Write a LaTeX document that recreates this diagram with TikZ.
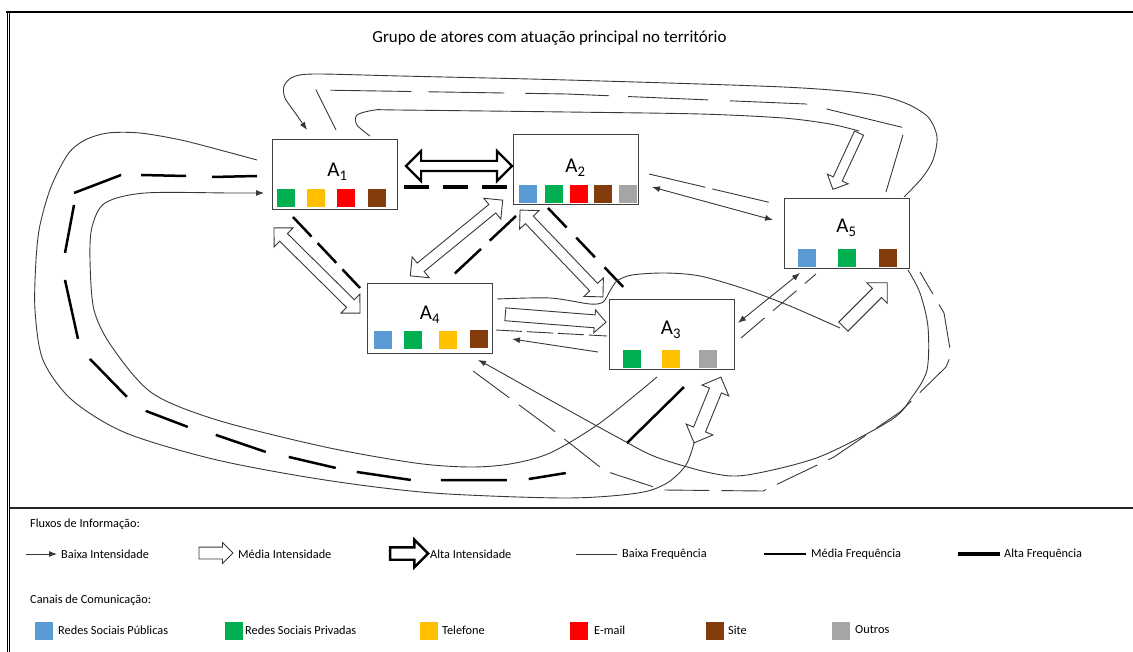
\documentclass[tikz,border=0pt]{standalone}
\usepackage{fontspec}
\setmainfont{Carlito}
\usetikzlibrary{arrows.meta,shapes.arrows}

\definecolor{azul}{HTML}{5B9BD5}
\definecolor{verde}{HTML}{00B050}
\definecolor{amarelo}{HTML}{FFC000}
\definecolor{vermelho}{HTML}{FF0000}
\definecolor{marrom}{HTML}{843C0C}
\definecolor{cinza}{HTML}{A5A5A5}
\definecolor{traco}{HTML}{383838}

\tikzset{
  ator/.style={draw=black!75, line width=1pt, minimum width=125pt, minimum height=70pt, inner sep=0pt},
  rotulo/.style={font=\fontsize{21}{23}\selectfont, inner sep=0pt, anchor=base},
  canal/.style={minimum size=18pt, inner sep=0pt},
  legenda/.style={font=\fontsize{12.3}{14}\selectfont, inner sep=0pt, anchor=west},
  fino/.style={line width=0.9pt, draw=traco},
  baixaint/.style={fino, -{Latex[length=8pt,width=6pt]}},
  baixaint2/.style={fino, {Latex[length=8pt,width=6pt]}-{Latex[length=8pt,width=6pt]}},
  baixafreq/.style={fino, dash pattern=on 30pt off 9pt},
  mediafreq/.style={line width=2.5pt, dash pattern=on 50pt off 22pt},
  altafreq/.style={line width=4.5pt, dash pattern=on 25pt off 14pt},
  mediaint/.style={single arrow, draw=traco, line width=0.9pt, fill=white, inner sep=0pt, inner ysep=6pt, single arrow head extend=7pt, minimum height=#1},
  mediaint2/.style={double arrow, draw=traco, line width=0.9pt, fill=white, inner sep=0pt, inner ysep=5pt, double arrow head extend=8pt, minimum height=#1},
  altaint/.style={single arrow, draw=black, line width=2.4pt, fill=white, inner sep=0pt, inner ysep=5pt, single arrow head extend=7.5pt, minimum height=#1},
  altaint2/.style={double arrow, draw=black, line width=2.2pt, fill=white, inner sep=0pt, inner ysep=4pt, double arrow head extend=10pt, minimum height=#1},
}

\begin{document}
\begin{tikzpicture}[x=1pt, y=-1pt]
  \useasboundingbox (0,0) rectangle (1133,652);

  % Moldura
  \draw[line width=2.4pt] (6,12) -- (1133,12);
  \draw[line width=1pt] (7,12) -- (7,652);
  \draw[line width=0.8pt] (9.8,12) -- (9.8,652);
  \draw[line width=1.1pt, black!85] (9.8,508) -- (1133,508);

  % Titulo
  \node[font=\fontsize{16.9}{19}\selectfont] (titulo) at (549.5,38) {Grupo de atores com atuação principal no território};

  % Atores
  \node[ator] (A1) at (334.5,175) {};
  \node[rotulo] (A1t) at (337.5,177) {A\textsubscript{1}};
  \node[canal, fill=verde] (A1c1) at (286,198) {};
  \node[canal, fill=amarelo] (A1c2) at (315.5,198) {};
  \node[canal, fill=vermelho] (A1c3) at (346,198) {};
  \node[canal, fill=marrom] (A1c4) at (376.5,198) {};

  \node[ator] (A2) at (575.5,170) {};
  \node[rotulo] (A2t) at (575.5,173) {A\textsubscript{2}};
  \node[canal, fill=azul] (A2c1) at (527.5,194) {};
  \node[canal, fill=verde] (A2c2) at (553.5,194) {};
  \node[canal, fill=vermelho] (A2c3) at (579,194) {};
  \node[canal, fill=marrom] (A2c4) at (602.5,194) {};
  \node[canal, fill=cinza] (A2c5) at (628,194) {};

  \node[ator] (A3) at (671.5,334.5) {};
  \node[rotulo] (A3t) at (671,335) {A\textsubscript{3}};
  \node[canal, fill=verde] (A3c1) at (632,359) {};
  \node[canal, fill=amarelo] (A3c2) at (671,359) {};
  \node[canal, fill=cinza] (A3c3) at (708,359) {};

  \node[ator] (A4) at (429.5,319) {};
  \node[rotulo] (A4t) at (430,320) {A\textsubscript{4}};
  \node[canal, fill=azul] (A4c1) at (382.5,340) {};
  \node[canal, fill=verde] (A4c2) at (413,340) {};
  \node[canal, fill=amarelo] (A4c3) at (447.5,340) {};
  \node[canal, fill=marrom] (A4c4) at (478.5,339) {};

  \node[ator] (A5) at (846.5,234) {};
  \node[rotulo] (A5t) at (846.5,233) {A\textsubscript{5}};
  \node[canal, fill=azul] (A5c1) at (806.5,258) {};
  \node[canal, fill=verde] (A5c2) at (847,258) {};
  \node[canal, fill=marrom] (A5c3) at (887.5,258) {};

  % A1 - A2
  \coordinate (p12a) at (404,187);
  \coordinate (p12b) at (511,187);
  \draw[altafreq] (p12a) -- (p12b);
  \node[altaint2=106pt] (s12) at (459,166) {};

  % A1 - A4
  \coordinate (p14a) at (293,217);
  \coordinate (p14b) at (360,288);
  \draw[mediafreq, dash pattern=on 27pt off 9pt] (p14a) -- (p14b);
  \node[mediaint2=121pt, rotate=-44.7] (s14) at (317,270.5) {};

  % A2 - A4
  \coordinate (p24a) at (516,216);
  \coordinate (p24b) at (450,278);
  \draw[mediafreq, dash pattern=on 36pt off 12pt] (p24a) -- (p24b);
  \node[mediaint2=119.5pt, rotate=39.3] (s24) at (456.5,238) {};

  % A2 - A3
  \coordinate (p23a) at (548,208);
  \coordinate (p23b) at (629,293);
  \draw[mediafreq, dash pattern=on 27pt off 14pt] (p23a) -- (p23b);
  \node[mediaint2=120pt, rotate=-46.3] (s23) at (561.5,253.5) {};

  % A4 - A3
  \coordinate (p43a) at (496,330);
  \coordinate (p43b) at (607,336);
  \draw[baixafreq, dash pattern=on 26pt off 5pt] (p43a) -- (p43b);
  \coordinate (b34a) at (598,352);
  \coordinate (b34b) at (512,339);
  \draw[baixaint] (b34a) -- (b34b);
  \node[mediaint=101pt, single arrow head extend=5pt, rotate=-4.5] (s43) at (552.5,318) {};

  % A4 - A5, por cima de A3
  \coordinate (c45a) at (497,299);
  \coordinate (c45b) at (840,328);
  \draw[fino] plot[smooth] coordinates {(c45a) (550,298) (590,304) (603,302) (610,291) (617,281) (632,275) (665,273) (700,276) (745,289) (790,306) (c45b)};
  \node[mediaint=62pt, single arrow head extend=8pt, rotate=45] (s45) at (863,307) {};

  % A2 - A5
  \coordinate (p25a) at (649,174);
  \coordinate (p25b) at (772,203);
  \draw[baixafreq, dash pattern=on 58pt off 7pt] (p25a) -- (p25b);
  \coordinate (b25a) at (652,187);
  \coordinate (b25b) at (773,220);
  \draw[baixaint2] (b25a) -- (b25b);

  % A3 - A5
  \coordinate (p35a) at (741,338);
  \coordinate (p35b) at (816,274);
  \draw[baixafreq, dash pattern=on 31pt off 11pt] (p35a) -- (p35b);
  \coordinate (b35a) at (738,323);
  \coordinate (b35b) at (800,273);
  \draw[baixaint2] (b35a) -- (b35b);

  % A1 - A5, por cima
  \coordinate (t5a) at (904,197);
  \coordinate (t1a) at (307,130);
  \draw[baixaint] plot[smooth] coordinates {(t5a) (922,178) (933,160) (937,137) (928,117) (905,103) (870,94) (783,87) (567,80) (400,76) (315,74) (293,77) (284,86) (285,98) (296,114) (t1a)};
  \coordinate (t1b) at (336,130);
  \coordinate (t5b) at (886,192);
  \draw[baixafreq, dash pattern=on 45pt off 14pt on 81pt off 17pt on 76pt off 21pt on 84pt off 19pt on 80pt off 22pt on 77pt off 20pt on 78pt off 10pt on 70pt off 60pt] (t1b) -- (316,90) -- (567,94) -- (806,104) -- (905,128) -- (t5b);
  \coordinate (t1c) at (370,136);
  \coordinate (t5c) at (859,131);
  \draw[fino] plot[smooth] coordinates {(t1c) (357,125) (357,115) (375,110) (398,110) (567,112) (700,114) (783,118) (830,124) (t5c)};
  \node[mediaint=62pt, inner ysep=4.5pt, single arrow head extend=6.5pt, rotate=-114.9] (s15) at (847,159) {};

  % A1 - A3, pela esquerda
  \coordinate (l1a) at (257,160);
  \coordinate (l3a) at (694,443);
  \draw[fino] plot[smooth] coordinates {(l1a) (220,150) (181,140) (140,133) (108,133) (85,140) (68,154) (51,187) (40,225) (36,260) (35,310) (43,360) (72,400) (126,433) (217,460) (325,480) (433,493) (566,498) (638,493) (667,483) (686,465) (l3a)};
  \node[mediaint2=71pt, inner ysep=6pt, rotate=67.8] (s13) at (707.5,410) {};
  \coordinate (l1b) at (257,176);
  \coordinate (l3b) at (684,387);
  \draw[mediafreq, dash pattern=on 45pt off 26pt on 45pt off 20pt on 50.3pt off 12pt on 48.8pt off 27pt on 60.4pt off 23.3pt on 53pt off 23.6pt on 44.9pt off 29.1pt on 52.8pt off 23.5pt on 48.3pt off 21.4pt on 54.6pt off 30pt on 66pt off 22pt on 37.5pt off 68pt on 80pt off 100pt]
    (l1b) -- (212,177) -- (186,176) -- (141,175) -- (121,175) -- (74,193) -- (74,205) -- (65,253) -- (65,280) -- (78,339) -- (90,359) -- (127,397) -- (146,411) -- (188,427) -- (216,435) -- (266,452) -- (289,457) -- (336,468) -- (357,472) -- (411,480) -- (441,480) -- (507,480) -- (529,479) -- (566,473) -- (627,443) -- (l3b);
  \coordinate (l3c) at (657,377);
  \coordinate (l1c) at (264,193);
  \draw[baixaint] plot[smooth] coordinates {(l3c) (600,423) (550,453) (510,464) (469,467) (415,463) (325,447) (217,420) (152,393) (112,347) (94,310) (90,260) (92,227) (105,203) (145,193) (231,193) (l1c)};

  % A4 - A5, por baixo
  \coordinate (r5a) at (908,270);
  \coordinate (r4a) at (478,360);
  \draw[baixaint] plot[smooth] coordinates {(r5a) (920,293) (928,327) (927,370) (912,397) (891,420) (819,457) (747,475) (711,473) (656,457) (617,437) (550,400) (493,368) (r4a)};
  \coordinate (r4b) at (473,371);
  \coordinate (r5b) at (920,272);
  \draw[baixafreq, dash pattern=on 45pt off 12pt] (r4b) -- (553,430) -- (605,471) -- (663,490) -- (763,491) -- (834,457) -- (900,412) -- (946,367) -- (951,355) -- (944,313) -- (r5b);

  % Legenda: fluxos
  \node[legenda] (lflux) at (30,524) {Fluxos de Informação:};
  \draw[baixaint] (26,554) -- (57,554);
  \node[legenda] (lbi) at (61,554) {Baixa Intensidade};
  \node[mediaint=34pt, inner ysep=5.5pt, single arrow head extend=4.5pt] (lmi) at (213,553) {};
  \node[legenda] (lmit) at (238,554) {Média Intensidade};
  \node[altaint=38pt] (lai) at (406,553.5) {};
  \node[legenda] (lait) at (430,554) {Alta Intensidade};
  \draw[fino] (576,554) -- (617,554);
  \node[legenda] (lbf) at (622,554) {Baixa Frequência};
  \draw[line width=2.5pt] (764,554) -- (806,554);
  \node[legenda] (lmf) at (811,554) {Média Frequência};
  \draw[line width=4.5pt] (958,554) -- (1000,554);
  \node[legenda] (laf) at (1004,554) {Alta Frequência};

  % Legenda: canais
  \node[legenda] (lcan) at (30,600) {Canais de Comunicação:};
  \node[canal, fill=azul] (lc1) at (44,631) {};
  \node[legenda] (lt1) at (58,630) {Redes Sociais Públicas};
  \node[canal, fill=verde] (lc2) at (233.5,631) {};
  \node[legenda] (lt2) at (245,630) {Redes Sociais Privadas};
  \node[canal, fill=amarelo] (lc3) at (428.5,631) {};
  \node[legenda] (lt3) at (442,630) {Telefone};
  \node[canal, fill=vermelho] (lc4) at (579,631) {};
  \node[legenda] (lt4) at (594,630) {E-mail};
  \node[canal, fill=marrom] (lc5) at (715,631) {};
  \node[legenda] (lt5) at (728,630) {Site};
  \node[canal, fill=cinza] (lc6) at (841,631) {};
  \node[legenda] (lt6) at (855,630) {Outros};
\end{tikzpicture}
\end{document}
